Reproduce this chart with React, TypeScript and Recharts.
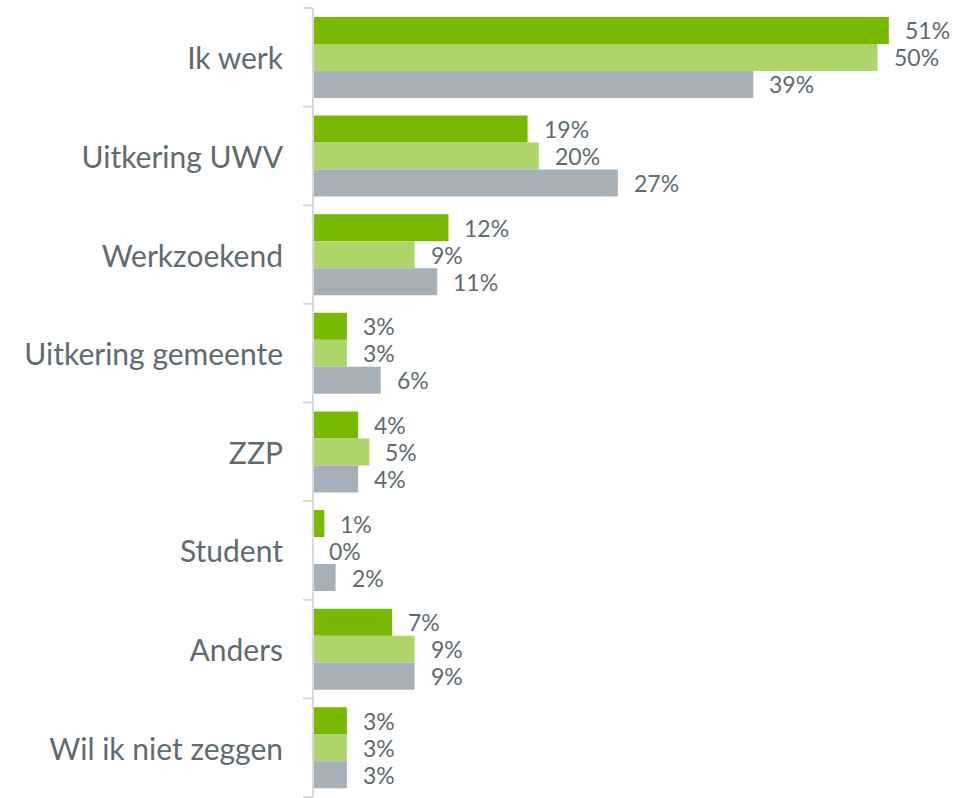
import React from 'react';
import { BarChart, Bar, XAxis, YAxis, LabelList } from 'recharts';

const categories = [
  'Ik werk',
  'Uitkering UWV',
  'Werkzoekend',
  'Uitkering gemeente',
  'ZZP',
  'Student',
  'Anders',
  'Wil ik niet zeggen',
];
const serieA = [51, 19, 12, 3, 4, 1, 7, 3];
const serieB = [50, 20, 9, 3, 5, 0, 9, 3];
const serieC = [39, 27, 11, 6, 4, 2, 9, 3];

const COLORS = ['#76B900', '#AED56A', '#A5B0B8'];
const TEXT = '#5F6B6F';
const AXIS = '#D9D9D9';

const W = 980;
const H = 798;
const MARGIN = { top: 8, right: 46, bottom: 1, left: 0 };
const BAND = (H - MARGIN.top - MARGIN.bottom) / categories.length;

const data = categories.map((name, i) => ({
  name,
  a: serieA[i],
  b: serieB[i],
  c: serieC[i],
}));

function CategoryTick(props: any) {
  const { x, y, payload, index } = props;
  const top = y - BAND / 2;
  const last = index === categories.length - 1;
  return (
    <g>
      <line x1={x - 10} x2={x} y1={top} y2={top} stroke={AXIS} strokeWidth={2} />
      {last && (
        <line x1={x - 10} x2={x} y1={top + BAND} y2={top + BAND} stroke={AXIS} strokeWidth={2} />
      )}
      <text
        x={x - 30}
        y={y}
        textAnchor="end"
        dominantBaseline="central"
        fill={TEXT}
        fontSize={30}
        fontFamily="Lato, sans-serif"
      >
        {payload.value}
      </text>
    </g>
  );
}

// custom label so that a 0% value still gets its text
function ValueLabel(props: any) {
  const { x, y, width, height, value } = props;
  if (value === undefined || value === null) return null;
  return (
    <text
      x={Number(x) + Math.round(Number(width || 0)) + 16}
      y={Number(y) + Number(height) / 2}
      dominantBaseline="central"
      fill={TEXT}
      fontSize={23}
      fontFamily="Lato, sans-serif"
    >
      {`${value}%`}
    </text>
  );
}

export default function App() {
  return (
    <div style={{ position: 'absolute', left: 0, top: 0, background: '#fff' }}>
      <BarChart
        width={W}
        height={H}
        data={data}
        layout="vertical"
        margin={MARGIN}
        barCategoryGap="9%"
        barGap={0}
      >
        <XAxis type="number" domain={[0, 55]} hide allowDataOverflow />
        <YAxis
          type="category"
          dataKey="name"
          width={313}
          axisLine={{ stroke: AXIS, strokeWidth: 2 }}
          tickLine={false}
          tickSize={0}
          tickMargin={0}
          tick={<CategoryTick />}
          interval={0}
        />
        <Bar dataKey="a" fill={COLORS[0]} isAnimationActive={false}>
          <LabelList dataKey="a" content={<ValueLabel />} />
        </Bar>
        <Bar dataKey="b" fill={COLORS[1]} minPointSize={0.01} isAnimationActive={false}>
          <LabelList dataKey="b" content={<ValueLabel />} />
        </Bar>
        <Bar dataKey="c" fill={COLORS[2]} isAnimationActive={false}>
          <LabelList dataKey="c" content={<ValueLabel />} />
        </Bar>
      </BarChart>
    </div>
  );
}
